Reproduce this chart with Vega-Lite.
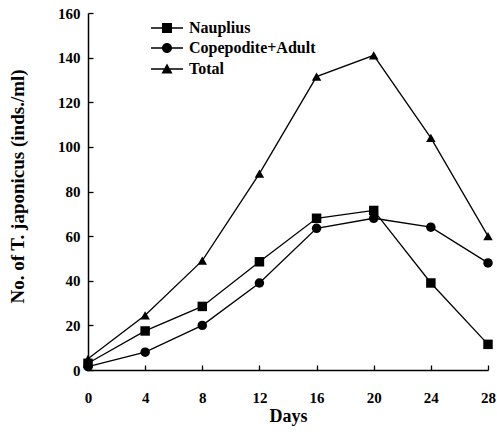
{
  "$schema": "https://vega.github.io/schema/vega-lite/v6.json",
  "width": 400,
  "height": 357,
  "autosize": "none",
  "padding": {"left": 88, "top": 13, "right": 9, "bottom": 65},
  "background": "white",
  "config": {
    "view": {"stroke": null},
    "font": "Liberation Serif",
    "axis": {"grid": false, "domainColor": "black", "tickColor": "black", "labelColor": "black", "titleColor": "black", "labelFont": "Liberation Serif", "titleFont": "Liberation Serif", "labelFontWeight": "bold", "titleFontWeight": "bold", "labelFontSize": 15, "domainWidth": 1.5, "tickWidth": 1.3}
  },
  "data": {"values": [
    {"day": 0, "series": "Nauplius", "value": 3},
    {"day": 4, "series": "Nauplius", "value": 17.5},
    {"day": 8, "series": "Nauplius", "value": 28.5},
    {"day": 12, "series": "Nauplius", "value": 48.5},
    {"day": 16, "series": "Nauplius", "value": 68},
    {"day": 20, "series": "Nauplius", "value": 71.5},
    {"day": 24, "series": "Nauplius", "value": 39},
    {"day": 28, "series": "Nauplius", "value": 11.5},
    {"day": 0, "series": "Copepodite+Adult", "value": 1.5},
    {"day": 4, "series": "Copepodite+Adult", "value": 8},
    {"day": 8, "series": "Copepodite+Adult", "value": 20},
    {"day": 12, "series": "Copepodite+Adult", "value": 39},
    {"day": 16, "series": "Copepodite+Adult", "value": 63.5},
    {"day": 20, "series": "Copepodite+Adult", "value": 68},
    {"day": 24, "series": "Copepodite+Adult", "value": 64},
    {"day": 28, "series": "Copepodite+Adult", "value": 48},
    {"day": 0, "series": "Total", "value": 5},
    {"day": 4, "series": "Total", "value": 24.5},
    {"day": 8, "series": "Total", "value": 49},
    {"day": 12, "series": "Total", "value": 88},
    {"day": 16, "series": "Total", "value": 131.5},
    {"day": 20, "series": "Total", "value": 141},
    {"day": 24, "series": "Total", "value": 104},
    {"day": 28, "series": "Total", "value": 60}
  ]},
  "encoding": {
    "x": {"field": "day", "type": "quantitative", "scale": {"domain": [0, 28], "nice": false, "zero": false},
      "axis": {"title": "Days", "titleFontSize": 18, "values": [0, 4, 8, 12, 16, 20, 24, 28], "tickSize": -5, "labelPadding": 25, "titlePadding": 2, "labelFlush": false}},
    "y": {"field": "value", "type": "quantitative", "scale": {"domain": [0, 160], "nice": false},
      "axis": {"title": "No. of T. japonicus (inds./ml)", "titleFontSize": 19, "values": [0, 20, 40, 60, 80, 100, 120, 140, 160], "tickSize": -5, "labelPadding": 13, "titleX": -61, "titleY": 173, "labelFlush": false}}
  },
  "layer": [
    {"mark": {"type": "line", "color": "black", "strokeWidth": 1.3}, "encoding": {"detail": {"field": "series"}}},
    {"mark": {"type": "point", "filled": true, "color": "black", "opacity": 1},
      "encoding": {
        "shape": {"field": "series", "type": "nominal",
          "scale": {"domain": ["Nauplius", "Copepodite+Adult", "Total"], "range": ["square", "circle", "triangle-up"]},
          "legend": null},
        "size": {"value": 90}
      }
    },
    {"mark": {"type": "point", "filled": true, "color": "black", "opacity": 0},
      "encoding": {
        "shape": {"field": "series", "type": "nominal",
          "scale": {"domain": ["Nauplius", "Copepodite+Adult", "Total"], "range": ["M-3.2,-0.13H3.2V0.13H-3.2ZM-1,-1H1V1H-1Z", "M-3.2,-0.13H3.2V0.13H-3.2ZM-1,0A1,1,0,1,1,1,0A1,1,0,1,1,-1,0Z", "M-3.2,-0.13H3.2V0.13H-3.2ZM0,-1.1L1.1,0.9L-1.1,0.9Z"]},
          "legend": {"title": null, "orient": "none", "legendX": 71, "legendY": 7, "labelFont": "Liberation Serif", "labelFontWeight": "bold", "labelFontSize": 16, "labelColor": "black", "labelOffset": 14, "rowPadding": 4, "symbolSize": 100, "symbolFillColor": "black", "symbolOpacity": 1}},
        "size": {"value": 100}
      }
    }
  ],
  "resolve": {"scale": {"shape": "independent"}, "legend": {"shape": "independent"}}
}
